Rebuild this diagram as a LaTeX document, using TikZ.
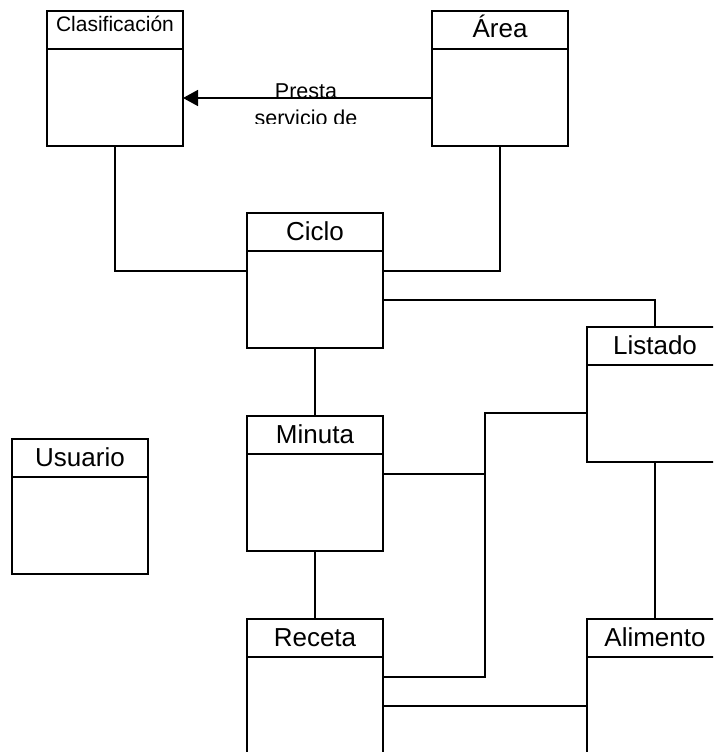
\documentclass[tikz,border=0pt]{standalone}
\usepackage{fontspec}
\setmainfont{Liberation Sans}
\usetikzlibrary{arrows.meta}

% One class box: #1 name, #2 centre, #3 title, #4 baseline drop of the title, #5 title font size
\newcommand\umlclass[5]{%
  \node[classbox] (#1) at (#2) {};
  \draw[link] ([yshift=-38pt]#1.north west) -- ([yshift=-38pt]#1.north east);
  \node[titletext, font=\fontsize{#5}{#5}\selectfont] (#1-title) at ([yshift=-#4pt]#1.north) {#3};
}

\begin{document}
\begin{tikzpicture}[x=1pt, y=-1pt,
  classbox/.style={draw=black, line width=1.5pt, minimum width=136pt,
                   minimum height=135pt, inner sep=0pt, outer sep=0pt},
  link/.style={draw=black, line width=1.5pt},
  titletext/.style={anchor=base, inner sep=0pt},
]
\fill[white] (0,0) rectangle (713,752);
\useasboundingbox (0,0) rectangle (713,752);
\clip (0,0) rectangle (713,752);

% classes
\umlclass{clas}{115,78.5}{Clasificación}{21}{21}
\umlclass{area}{500,78.5}{Área}{27}{26}
\umlclass{ciclo}{315,280.5}{Ciclo}{27}{26}
\umlclass{listado}{655,394.5}{Listado}{27}{26}
\umlclass{minuta}{315,483.5}{Minuta}{27}{26}
\umlclass{usuario}{80,506.5}{Usuario}{27}{26}
\umlclass{receta}{315,686.5}{Receta}{27}{26}
\umlclass{alimento}{655,686.5}{Alimento}{27}{26}

% directed association with its label, cut off below the second line
\begin{scope}
  \clip (200,70) rectangle (420,123);
  \node[align=center, anchor=base, inner sep=0pt,
        font=\fontsize{21.5}{27}\selectfont] (lbl) at (306,125) {Presta\\servicio de};
\end{scope}
\draw[link, -{Triangle[length=15pt, width=16pt]}]
  ([yshift=-87pt]area.north west) -- ([yshift=-87pt]clas.north east);

% plain associations
\draw[link] (clas.south) |- ([yshift=-58pt]ciclo.north west);
\draw[link] (area.south) |- ([yshift=-58pt]ciclo.north east);
\draw[link] ([yshift=-87pt]ciclo.north east) -| (listado.north);
\draw[link] (ciclo.south) -- (minuta.north);
\draw[link] (minuta.south) -- (receta.north);
\coordinate (jn) at (485,413);
\draw[link] ([yshift=-58pt]minuta.north east) -| (jn) -- ([yshift=-86pt]listado.north west);
\draw[link] ([yshift=-58pt]receta.north east) -| (jn);
\draw[link] (listado.south) -- (alimento.north);
\draw[link] ([yshift=-87pt]receta.north east) -- ([yshift=-87pt]alimento.north west);
\end{tikzpicture}
\end{document}
